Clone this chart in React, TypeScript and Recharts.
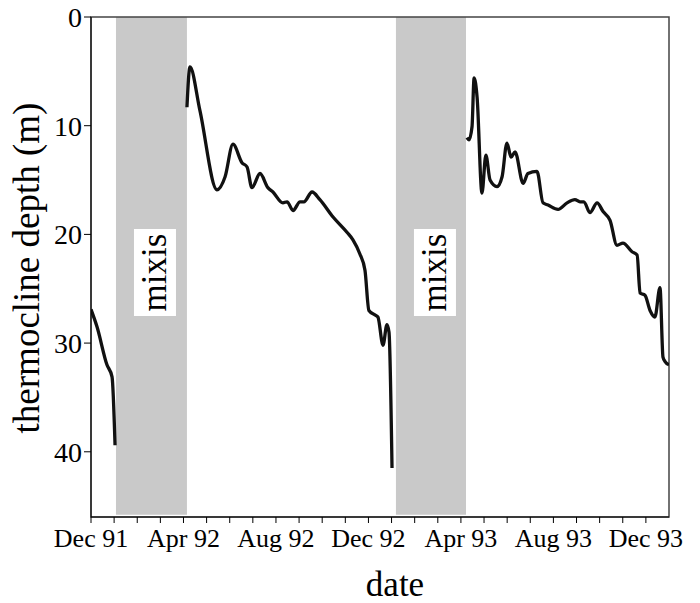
import React from 'react';
import { LineChart, Line, XAxis, YAxis, ReferenceArea, Label } from 'recharts';

// x is months counted from 1 Dec 1991
const monthTicks = [0, 1, 2, 3, 4, 5, 6, 7, 8, 9, 10, 11, 12, 13, 14, 15, 16, 17, 18, 19, 20, 21, 22, 23, 24];
const monthLabels: Record<number, string> = {
  0: 'Dec 91',
  4: 'Apr 92',
  8: 'Aug 92',
  12: 'Dec 92',
  16: 'Apr 93',
  20: 'Aug 93',
  24: 'Dec 93',
};
const depthTicks = [0, 10, 20, 30, 40];

const mixisPeriods = [
  { start: 1.08, end: 4.15 },
  { start: 13.19, end: 16.22 },
];

const stratified91 = [
  { month: 0.0, depth: 26.9 },
  { month: 0.26, depth: 28.5 },
  { month: 0.69, depth: 32.0 },
  { month: 0.91, depth: 33.1 },
  { month: 1.04, depth: 39.4 },
];

const stratified92 = [
  { month: 4.15, depth: 8.3 },
  { month: 4.28, depth: 4.6 },
  { month: 4.71, depth: 8.6 },
  { month: 5.45, depth: 15.9 },
  { month: 5.8, depth: 14.7 },
  { month: 6.14, depth: 11.7 },
  { month: 6.53, depth: 13.4 },
  { month: 6.75, depth: 13.8 },
  { month: 6.96, depth: 15.7 },
  { month: 7.31, depth: 14.4 },
  { month: 7.65, depth: 15.7 },
  { month: 7.87, depth: 16.1 },
  { month: 8.3, depth: 17.1 },
  { month: 8.48, depth: 17.0 },
  { month: 8.74, depth: 17.8 },
  { month: 9.04, depth: 17.0 },
  { month: 9.21, depth: 17.0 },
  { month: 9.56, depth: 16.1 },
  { month: 9.9, depth: 16.8 },
  { month: 10.47, depth: 18.4 },
  { month: 11.07, depth: 19.8 },
  { month: 11.33, depth: 20.5 },
  { month: 11.63, depth: 21.8 },
  { month: 11.85, depth: 23.3 },
  { month: 12.02, depth: 27.0 },
  { month: 12.28, depth: 27.4 },
  { month: 12.41, depth: 27.6 },
  { month: 12.63, depth: 30.2 },
  { month: 12.8, depth: 28.3 },
  { month: 12.89, depth: 29.0 },
  { month: 13.02, depth: 41.5 },
];

const stratified93 = [
  { month: 16.26, depth: 11.1 },
  { month: 16.35, depth: 11.3 },
  { month: 16.48, depth: 10.1 },
  { month: 16.57, depth: 5.6 },
  { month: 16.7, depth: 7.4 },
  { month: 16.91, depth: 16.2 },
  { month: 17.08, depth: 12.7 },
  { month: 17.26, depth: 15.0 },
  { month: 17.56, depth: 15.6 },
  { month: 17.78, depth: 14.7 },
  { month: 17.99, depth: 11.6 },
  { month: 18.17, depth: 12.9 },
  { month: 18.34, depth: 12.4 },
  { month: 18.69, depth: 15.3 },
  { month: 18.9, depth: 14.4 },
  { month: 19.29, depth: 14.2 },
  { month: 19.55, depth: 17.1 },
  { month: 19.77, depth: 17.3 },
  { month: 20.2, depth: 17.7 },
  { month: 20.59, depth: 17.1 },
  { month: 20.93, depth: 16.8 },
  { month: 21.15, depth: 17.0 },
  { month: 21.32, depth: 17.0 },
  { month: 21.58, depth: 18.0 },
  { month: 21.89, depth: 17.1 },
  { month: 22.15, depth: 17.9 },
  { month: 22.45, depth: 18.7 },
  { month: 22.75, depth: 21.0 },
  { month: 23.01, depth: 20.8 },
  { month: 23.4, depth: 21.6 },
  { month: 23.62, depth: 21.9 },
  { month: 23.75, depth: 25.4 },
  { month: 23.96, depth: 25.6 },
  { month: 24.18, depth: 27.0 },
  { month: 24.39, depth: 27.6 },
  { month: 24.61, depth: 24.9 },
  { month: 24.74, depth: 31.3 },
  { month: 24.83, depth: 31.7 },
  { month: 25.0, depth: 32.0 },
];

const serif = "'Liberation Serif', 'Times New Roman', serif";

const MixisLabel = (props: any) => {
  const vb = props.viewBox;
  if (!vb) return null;
  const bx = vb.x + 18;
  const by = vb.y + 212;
  const bw = 42;
  const bh = 87;
  const cx = bx + bw / 2;
  const cy = by + bh / 2;
  return (
    <g>
      <rect x={bx} y={by} width={bw} height={bh} fill="#fff" />
      <text
        x={cx}
        y={cy}
        transform={`rotate(-90 ${cx} ${cy})`}
        textAnchor="middle"
        dominantBaseline="central"
        fontSize={35}
        fontFamily={serif}
        fill="#000"
      >
        mixis
      </text>
    </g>
  );
};

const App = () => {
  return (
    <div style={{ position: 'absolute', left: 0, top: 0, background: '#fff' }}>
      <LineChart width={700} height={603} margin={{ top: 17, right: 31, bottom: 0, left: 0 }}>
        <XAxis
          type="number"
          dataKey="month"
          domain={[0, 25]}
          ticks={monthTicks}
          interval={0}
          tickFormatter={(v: number) => monthLabels[v] ?? ''}
          tickSize={6}
          tickMargin={6}
          height={86}
          stroke="#000"
          tick={{ fill: '#000', fontSize: 26, fontFamily: serif }}
          allowDataOverflow
        >
          <Label
            content={() => (
              <text x={395} y={596} textAnchor="middle" fontSize={35} fontFamily={serif} fill="#000">
                date
              </text>
            )}
          />
        </XAxis>
        <YAxis
          type="number"
          dataKey="depth"
          reversed
          domain={[0, 46]}
          ticks={depthTicks}
          tickSize={7}
          tickMargin={2}
          width={91}
          stroke="#000"
          tick={{ fill: '#000', fontSize: 28, fontFamily: serif }}
          allowDataOverflow
        >
          <Label
            content={() => (
              <text
                x={39}
                y={268}
                transform="rotate(-90 39 268)"
                textAnchor="middle"
                fontSize={37}
                fontFamily={serif}
                fill="#000"
              >
                thermocline depth (m)
              </text>
            )}
          />
        </YAxis>
        {mixisPeriods.map((p, i) => (
          <ReferenceArea
            key={i}
            x1={p.start}
            x2={p.end}
            y1={0}
            y2={45.8}
            fill="#c9c9c9"
            fillOpacity={1}
            stroke="none"
            label={<MixisLabel />}
          />
        ))}
        <ReferenceArea x1={0} x2={25} y1={0} y2={46} fill="none" stroke="#444" strokeWidth={1.5} />
        <Line data={stratified91} dataKey="depth" type="monotone" stroke="#111" strokeWidth={3.3} dot={false} isAnimationActive={false} />
        <Line data={stratified92} dataKey="depth" type="monotone" stroke="#111" strokeWidth={3.3} dot={false} isAnimationActive={false} />
        <Line data={stratified93} dataKey="depth" type="monotone" stroke="#111" strokeWidth={3.3} dot={false} isAnimationActive={false} />
      </LineChart>
    </div>
  );
};

export default App;
